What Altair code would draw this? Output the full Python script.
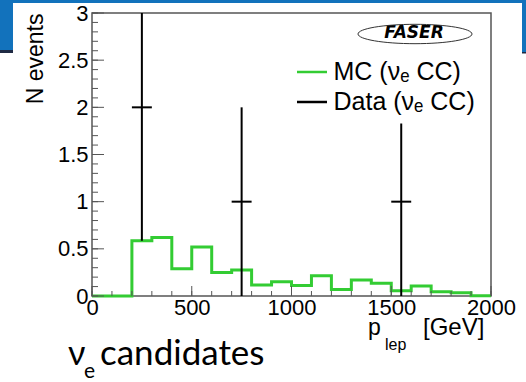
import altair as alt
import pandas as pd
import numpy as np

# ---------------- data ----------------
bin_edges = [0, 100, 200, 300, 400, 500, 600, 700, 800, 900, 1000,
             1100, 1200, 1300, 1400, 1500, 1600, 1700, 1800, 1900, 2000]
mc_values = [0.0, 0.0, 0.585, 0.62, 0.29, 0.52, 0.25, 0.275, 0.116, 0.15,
             0.11, 0.215, 0.07, 0.17, 0.134, 0.056, 0.106, 0.046, 0.035, 0.003]
data_centers = [250, 750, 1550]
data_counts = [2, 1, 1]
bin_half_width = 50

x_major = [0, 500, 1000, 1500, 2000]
x_minor = [0, 100, 200, 300, 400, 500, 600, 700, 800, 900, 1000, 1100, 1200,
           1300, 1400, 1500, 1600, 1700, 1800, 1900, 2000]
y_major = [0, 0.5, 1, 1.5, 2, 2.5, 3]
y_minor = [0, 0.1, 0.2, 0.3, 0.4, 0.5, 0.6, 0.7, 0.8, 0.9, 1.0, 1.1, 1.2, 1.3,
           1.4, 1.5, 1.6, 1.7, 1.8, 1.9, 2.0, 2.1, 2.2, 2.3, 2.4, 2.5, 2.6,
           2.7, 2.8, 2.9, 3.0]

series_labels = ["MC (\u03bd\u2091 CC)", "Data (\u03bd\u2091 CC)"]
y_title = "N events"
x_title_parts = ["p", "lep", "[GeV]"]
caption_parts = ["\u03bd", "e", "candidates"]
logo_text = "FASER"

# ---------------- layout / style ----------------
W, H = 399, 283
PAD = {"left": 92, "top": 13, "right": 35, "bottom": 86}
FONT = "Liberation Sans"
GREEN = "#33cc33"
BLUE = "#1272BC"
DARK = "#1f2a44"
TICK = "#555555"

# ---------------- tables ----------------
df_mc = pd.DataFrame({"p": bin_edges, "n": mc_values + [mc_values[-1]],
                      "series": series_labels[0]})
counts = np.array(data_counts, dtype=float)
err = np.sqrt(counts)
df_data = pd.DataFrame({
    "x": data_centers,
    "xlo": [c - bin_half_width for c in data_centers],
    "xhi": [c + bin_half_width for c in data_centers],
    "n": counts,
    "lo": np.maximum(counts - err, 0),
    "hi": counts + err,
    "series": series_labels[1],
})
one = pd.DataFrame({"k": [0]})

xs = alt.Scale(domain=[0, 2000], nice=False, zero=False)
ys = alt.Scale(domain=[0, 3], nice=False)
cscale = alt.Scale(domain=series_labels, range=[GREEN, "black"])

legend = alt.Legend(
    orient="none", legendX=195.5, legendY=34.5, title=None,
    symbolType="stroke", symbolSize=900, symbolStrokeWidth=2.5,
    labelFont=FONT, labelFontSize=25, labelColor="black", labelLimit=300,
    labelOffset=5, rowPadding=0, padding=8, fillColor="white",
)

mc = alt.Chart(df_mc).mark_line(interpolate="step-after", strokeWidth=3).encode(
    x=alt.X("p:Q", scale=xs, axis=alt.Axis(
        orient="bottom", values=x_major, ticks=False, domain=False, grid=False,
        labelFont=FONT, labelFontSize=22, labelColor="black", labelPadding=1,
        labelFlush=False, labelOverlap=False, format="d", title=None)),
    y=alt.Y("n:Q", scale=ys, axis=alt.Axis(
        orient="left", values=y_major, ticks=False, domain=False, grid=False,
        labelFont=FONT, labelFontSize=22, labelColor="black", labelPadding=4,
        labelFlush=False, labelOverlap=False, format="~r",
        title=y_title, titleFont=FONT, titleFontSize=23, titleFontWeight="normal",
        titleColor="black", titleAnchor="end", titleAngle=270, titleAlign="right",
        titleBaseline="middle", titleX=-57, titleY=0)),
    color=alt.Color("series:N", scale=cscale, legend=legend),
)

err_v = alt.Chart(df_data).mark_rule(strokeWidth=2, clip=True).encode(
    x=alt.X("x:Q", scale=xs),
    y=alt.Y("lo:Q", scale=ys),
    y2="hi:Q",
    color=alt.Color("series:N"),
)

err_h = alt.Chart(df_data).mark_rule(strokeWidth=2, clip=True).encode(
    x=alt.X("xlo:Q", scale=xs),
    x2="xhi:Q",
    y=alt.Y("n:Q", scale=ys),
    color=alt.Color("series:N"),
)


# inward ticks (ROOT style), placed through the scales
def yticks(vals, length):
    return alt.Chart(pd.DataFrame({"v": vals})).mark_rule(
        color=TICK, strokeWidth=1).encode(
        y=alt.Y("v:Q", scale=ys),
        x=alt.value(0), x2=alt.value(length))


def xticks(vals, length):
    return alt.Chart(pd.DataFrame({"v": vals})).mark_rule(
        color=TICK, strokeWidth=1).encode(
        x=alt.X("v:Q", scale=xs),
        y=alt.value(H), y2=alt.value(H - length))


ticks = [yticks(y_minor, 6), yticks(y_major, 12),
         xticks(x_minor, 5), xticks(x_major, 10)]


def txt(s, x, y, size, font=FONT, align="left", baseline="alphabetic", **kw):
    return alt.Chart(one).mark_text(
        align=align, baseline=baseline, fontSize=size, font=font,
        color="black", **kw).encode(
        x=alt.value(x), y=alt.value(y), text=alt.value(s))


def rect(x1, x2, y1, y2, color):
    return alt.Chart(one).mark_rect(color=color).encode(
        x=alt.value(x1), x2=alt.value(x2), y=alt.value(y1), y2=alt.value(y2))


texts = [
    txt(x_title_parts[0], 276, 322, 23),
    txt(x_title_parts[1], 293, 337, 16),
    txt(x_title_parts[2], 331, 322, 24),
    txt(caption_parts[0], -24, 352, 34, font="Lato"),
    txt(caption_parts[1], -8, 365, 21, font="Lato"),
    txt(caption_parts[2], 8, 352, 35, font="Lato"),
    txt(logo_text, 322, 20, 17, font="DejaVu Sans", align="center",
        baseline="middle", fontStyle="italic", fontWeight="bold"),
]

ellipse = alt.Chart(one).mark_point(
    shape="M-1,0 A1,0.17 0 1,1 1,0 A1,0.17 0 1,1 -1,0",
    size=12996, filled=False, stroke="#333333", strokeWidth=1, opacity=1,
).encode(x=alt.value(323), y=alt.value(21))

decor = [
    rect(-92, 434, -13, -10, BLUE),
    rect(-92, -79, -13, 37, BLUE),
    rect(-92, -79, 37, 40, DARK),
    rect(430, 434, -13, 39, BLUE),
    rect(430, 434, 39, 40.5, DARK),
]

chart = alt.layer(mc, *ticks, err_v, err_h, *texts, ellipse, *decor).properties(
    width=W, height=H, padding=PAD, autosize=alt.AutoSizeParams(type="none"),
    background="white",
).configure_view(stroke="#555555", strokeWidth=1.5)

chart.save("out.html", embed_options={"renderer": "svg", "actions": False})
